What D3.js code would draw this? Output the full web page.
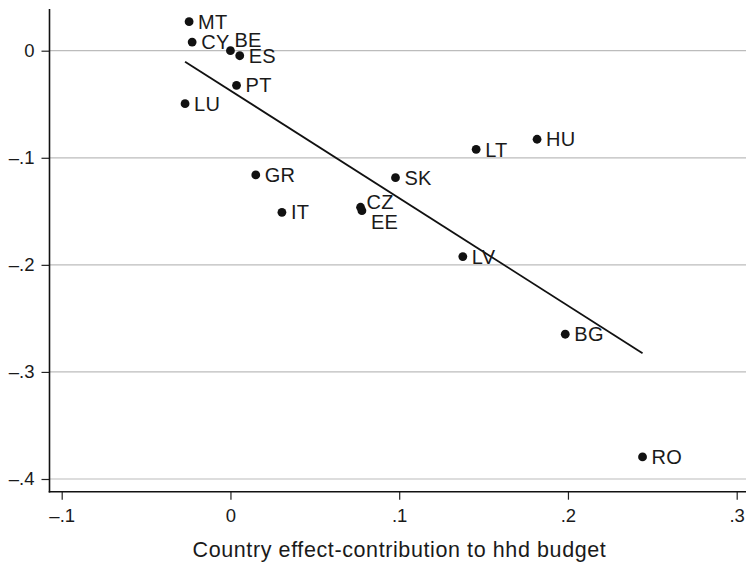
<!DOCTYPE html>
<html>
<head>
<meta charset="utf-8">
<script src="https://cdn.jsdelivr.net/npm/d3@7"></script>
<style>
  html, body { margin: 0; padding: 0; background: #fff; }
  svg { display: block; }
  text { font-family: "Liberation Sans", Arial, Helvetica, sans-serif; fill: #1a1a1a; }
</style>
</head>
<body>
<svg id="chart" width="746" height="563"></svg>
<script>
// Country codes
const countries = ["MT", "CY", "BE", "ES", "PT", "LU", "GR", "IT", "CZ", "EE", "SK", "LT", "LV", "HU", "BG", "RO"];
// Country effect-contribution to household budget (x)
const contribution = [-0.0245, -0.0227, 0.0, 0.0055, 0.0036, -0.0269, 0.0150, 0.0305, 0.0771, 0.0779, 0.0978, 0.1456, 0.1377, 0.1817, 0.1984, 0.2442];
// Outcome (y)
const outcome = [0.0271, 0.0081, 0.0, -0.0047, -0.0323, -0.0495, -0.1160, -0.1509, -0.1462, -0.1494, -0.1186, -0.0921, -0.1923, -0.0827, -0.2648, -0.3794];
// Fitted line endpoints
const fitX = [-0.0269, 0.2442];
const fitY = [-0.0103, -0.2825];
// Tick values and labels
const xTicks = [-0.1, 0, 0.1, 0.2, 0.3];
const xTickLabels = ["\u2013.1", "0", ".1", ".2", ".3"];
const yTicks = [0, -0.1, -0.2, -0.3, -0.4];
const yTickLabels = ["0", "\u2013.1", "\u2013.2", "\u2013.3", "\u2013.4"];
const xTitle = "Country effect-contribution to hhd budget";

// Marker label placement (clock positions), default 3 o'clock
const labelClock = { BE: 1, CZ: 2, EE: 4 };

const svg = d3.select("#chart");
const W = 746, H = 563;
const axisLeft = 49.5, axisBottom = 491.7, axisTop = 9;

const x = d3.scaleLinear().domain([-0.1, 0.3]).range([61.7, 736.7]);
const y = d3.scaleLinear().domain([0, -0.4]).range([50.7, 479]);

// Gridlines
svg.append("g").selectAll("line").data(yTicks).join("line")
  .attr("x1", axisLeft).attr("x2", W)
  .attr("y1", d => y(d)).attr("y2", d => y(d))
  .attr("stroke", "#bcbcbc").attr("stroke-width", 1.2);

// Y axis
const yAxis = d3.axisLeft(y).tickValues(yTicks).tickSize(8).tickPadding(7)
  .tickFormat((d, i) => yTickLabels[i]);
const gy = svg.append("g").attr("transform", `translate(${axisLeft},0)`).call(yAxis);
gy.select(".domain").remove();
gy.selectAll(".tick line").attr("stroke", "#222").attr("stroke-width", 1.2);
gy.selectAll(".tick text").style("font-size", "18.5px").attr("fill", "#1a1a1a");

// X axis
const xAxis = d3.axisBottom(x).tickValues(xTicks).tickSize(8).tickPadding(9)
  .tickFormat((d, i) => xTickLabels[i]);
const gx = svg.append("g").attr("transform", `translate(0,${axisBottom})`).call(xAxis);
gx.select(".domain").remove();
gx.selectAll(".tick line").attr("stroke", "#222").attr("stroke-width", 1.2);
gx.selectAll(".tick text").style("font-size", "18.5px").attr("fill", "#1a1a1a");

// Axis lines
svg.append("line").attr("x1", axisLeft).attr("x2", axisLeft)
  .attr("y1", axisTop).attr("y2", axisBottom + 0.7)
  .attr("stroke", "#111").attr("stroke-width", 1.6);
svg.append("line").attr("x1", axisLeft - 0.8).attr("x2", W)
  .attr("y1", axisBottom).attr("y2", axisBottom)
  .attr("stroke", "#111").attr("stroke-width", 1.6);

// X axis title
svg.append("text")
  .attr("x", 399.5).attr("y", 557)
  .attr("text-anchor", "middle")
  .style("font-size", "21.5px")
  .style("letter-spacing", "0.6px")
  .text(xTitle);

// Fitted line
svg.append("line")
  .attr("x1", x(fitX[0])).attr("y1", y(fitY[0]))
  .attr("x2", x(fitX[1])).attr("y2", y(fitY[1]))
  .attr("stroke", "#111").attr("stroke-width", 1.8);

// Points
const pts = countries.map((c, i) => ({ c, x: contribution[i], y: outcome[i] }));
svg.append("g").selectAll("circle").data(pts).join("circle")
  .attr("cx", d => x(d.x)).attr("cy", d => y(d.y))
  .attr("r", 4.4).attr("fill", "#111");

// Marker labels
const clockOffset = {
  1: [4, -11],
  2: [6, -5],
  3: [9, 0],
  4: [9, 11]
};
svg.append("g").selectAll("text").data(pts).join("text")
  .attr("x", d => x(d.x) + clockOffset[labelClock[d.c] || 3][0])
  .attr("y", d => y(d.y) + clockOffset[labelClock[d.c] || 3][1])
  .attr("dy", "0.36em")
  .style("font-size", "20px")
  .style("letter-spacing", "0.3px")
  .text(d => d.c);
</script>
</body>
</html>
